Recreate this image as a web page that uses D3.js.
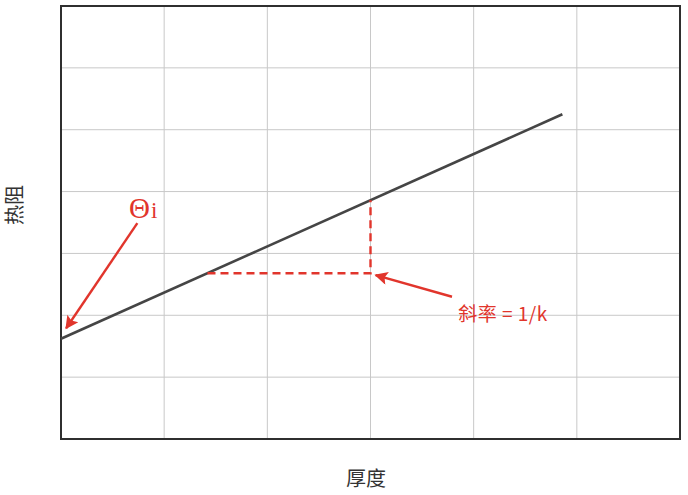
<!DOCTYPE html>
<html>
<head>
<meta charset="utf-8">
<script src="https://cdn.jsdelivr.net/npm/d3@7"></script>
<style>
  body { margin: 0; background: #fff; }
  svg { display: block; }
</style>
</head>
<body>
<div id="chart"></div>
<script>
// grid ticks (no labels shown in the picture)
var xTicks = [0, 1, 2, 3, 4, 5, 6];
var yTicks = [0, 1, 2, 3, 4, 5, 6, 7];

// the thermal-resistance line
var lineX = [0, 4.86];
var lineY = [1.62, 5.25];

// dashed slope triangle
var slopeX = [1.42, 3, 3];
var slopeY = [2.68, 2.68, 3.86];

// arrows: [fromX, fromY, toX, toY]
var thetaArrow = [0.74, 3.49, 0.05, 1.79];
var slopeArrow = [3.79, 2.30, 3.05, 2.65];

// labels
var xLabel = "厚度", yLabel = "热阻";
var thetaLabel = ["Θ", "i"], thetaPos = [0.66, 3.57];
var slopeLabel = "斜率 = 1/k", slopePos = [3.85, 1.91];

var width = 688, height = 495,
    margin = {top: 6, right: 8, bottom: 56, left: 61},
    red = "#e1352c";

var svg = d3.select("#chart").append("svg")
    .attr("width", width)
    .attr("height", height);

var x = d3.scaleLinear().domain([0, 6]).range([margin.left, width - margin.right]);
var y = d3.scaleLinear().domain([0, 7]).range([height - margin.bottom, margin.top]);

svg.append("defs").append("marker")
    .attr("id", "head")
    .attr("viewBox", "0 0 10 10")
    .attr("refX", 9).attr("refY", 5)
    .attr("markerWidth", 6.5).attr("markerHeight", 5.5)
    .attr("markerUnits", "strokeWidth")
    .attr("orient", "auto")
  .append("path")
    .attr("d", "M0,0 L10,5 L0,10 L2,5 z")
    .attr("fill", red);

// grid
svg.append("g").selectAll("line").data(xTicks.slice(1, -1)).enter().append("line")
    .attr("x1", function(d) { return x(d); }).attr("x2", function(d) { return x(d); })
    .attr("y1", y(0)).attr("y2", y(7))
    .style("stroke", "#c8c8c8").style("stroke-width", 1);

svg.append("g").selectAll("line").data(yTicks.slice(1, -1)).enter().append("line")
    .attr("y1", function(d) { return y(d); }).attr("y2", function(d) { return y(d); })
    .attr("x1", x(0)).attr("x2", x(6))
    .style("stroke", "#c8c8c8").style("stroke-width", 1);

// frame
svg.append("rect")
    .attr("x", x(0)).attr("y", y(7))
    .attr("width", x(6) - x(0)).attr("height", y(0) - y(7))
    .style("fill", "none").style("stroke", "#2f2f2f").style("stroke-width", 2);

// main line
var line = d3.line()
    .x(function(d) { return x(d[0]); })
    .y(function(d) { return y(d[1]); });

svg.append("path")
    .datum(d3.zip(lineX, lineY))
    .attr("d", line)
    .style("fill", "none").style("stroke", "#454545").style("stroke-width", 2.6);

// slope triangle
svg.append("path")
    .datum(d3.zip(slopeX, slopeY))
    .attr("d", line)
    .style("fill", "none").style("stroke", red)
    .style("stroke-width", 2.4).style("stroke-dasharray", "8,5");

// arrows
[thetaArrow, slopeArrow].forEach(function(a) {
    svg.append("line")
        .attr("x1", x(a[0])).attr("y1", y(a[1]))
        .attr("x2", x(a[2])).attr("y2", y(a[3]))
        .style("stroke", red).style("stroke-width", 2.4)
        .attr("marker-end", "url(#head)");
});

// labels
var theta = svg.append("text")
    .attr("x", x(thetaPos[0])).attr("y", y(thetaPos[1]))
    .style("font-family", "'Liberation Serif', 'DejaVu Serif', serif")
    .style("fill", red);
theta.append("tspan").style("font-size", "29px").text(thetaLabel[0]);
theta.append("tspan").style("font-size", "23px").attr("dx", 1).text(thetaLabel[1]);

svg.append("text")
    .attr("x", x(slopePos[0])).attr("y", y(slopePos[1]))
    .attr("textLength", 89).attr("lengthAdjust", "spacing")
    .style("font-family", "'Noto Sans CJK SC', sans-serif")
    .style("font-size", "19px")
    .style("fill", red)
    .text(slopeLabel);

svg.append("text")
    .attr("x", 366).attr("y", 486)
    .attr("text-anchor", "middle")
    .style("font-family", "'Noto Sans CJK SC', sans-serif")
    .style("font-size", "20px")
    .style("fill", "#333")
    .text(xLabel);

svg.append("text")
    .attr("transform", "translate(22," + 205 + ") rotate(-90)")
    .attr("text-anchor", "middle")
    .style("font-family", "'Noto Sans CJK SC', sans-serif")
    .style("font-size", "20px")
    .style("fill", "#333")
    .text(yLabel);
</script>
</body>
</html>
